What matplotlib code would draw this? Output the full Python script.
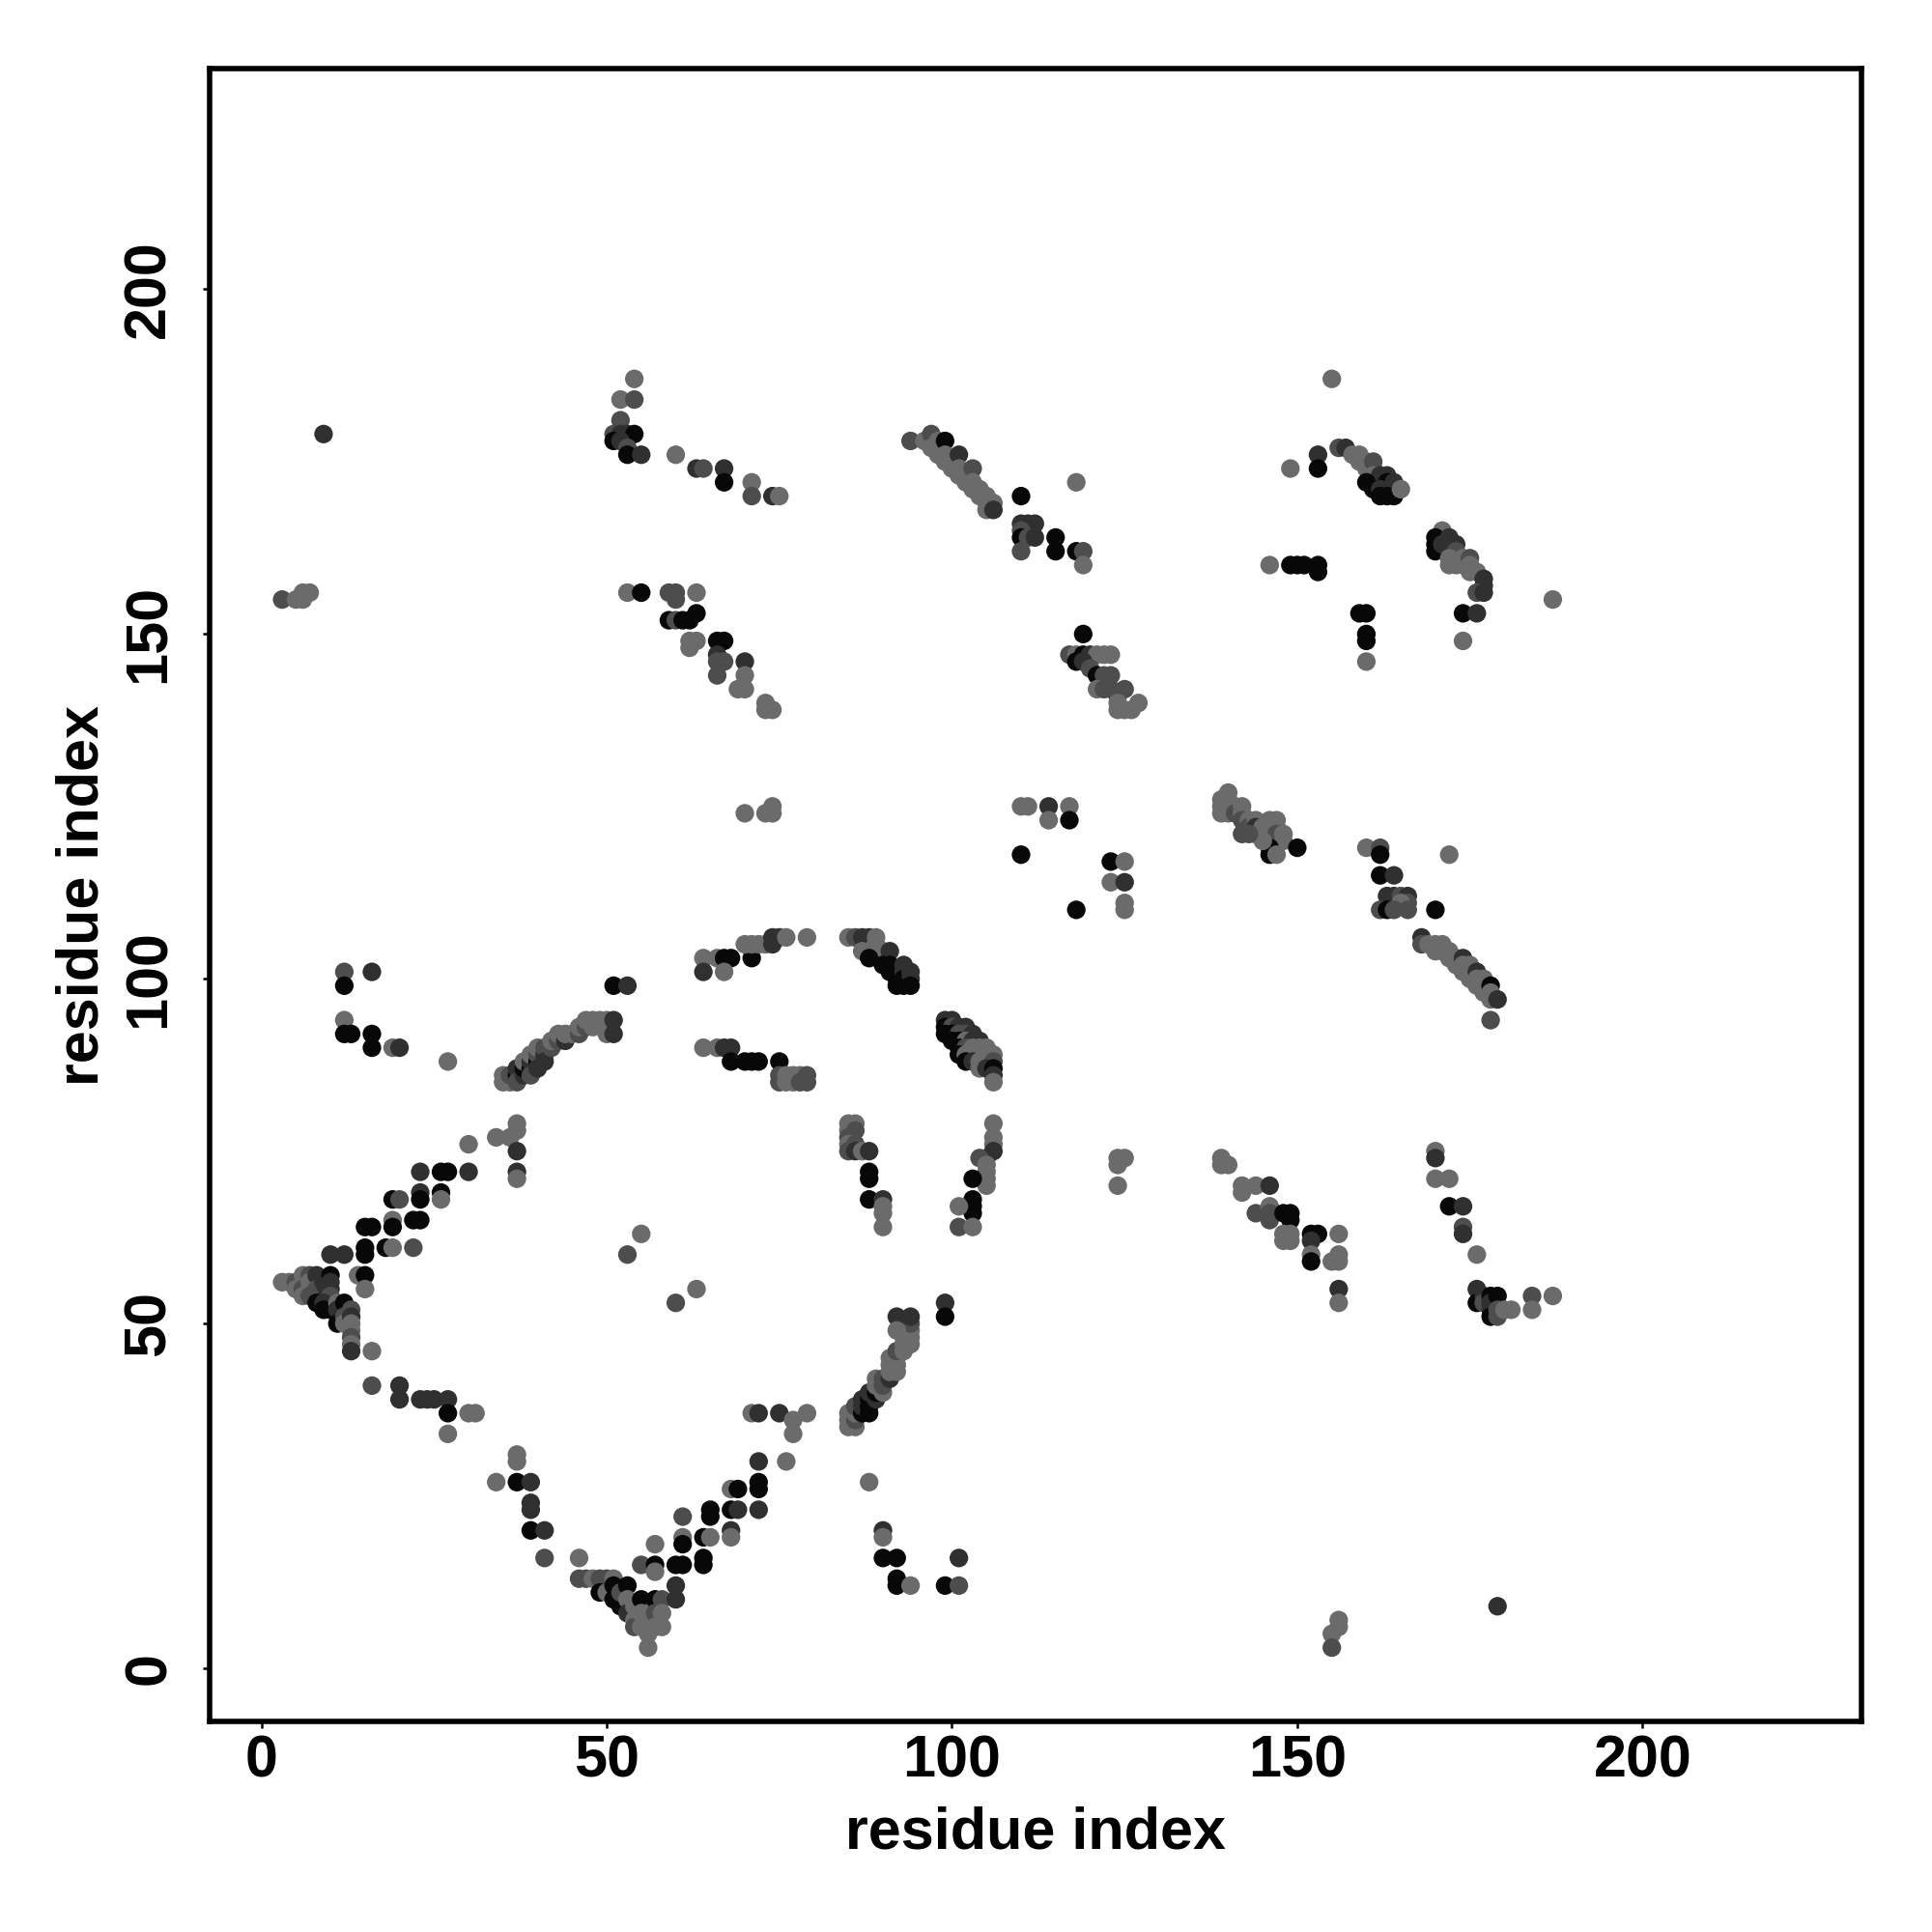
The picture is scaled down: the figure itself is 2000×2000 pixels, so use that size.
import matplotlib
matplotlib.use("Agg")
import matplotlib.pyplot as plt

plt.rcParams['font.family'] = ['Liberation Sans', 'DejaVu Sans']
plt.rcParams['font.weight'] = 'bold'

# contact pairs (residue i, residue j, intensity class)
# intensity class: k = strongest (black) ... g = weakest (grey)
grp_top_left = [(9,179,'d'),(3,155,'m'),(5,155,'g'),(6,155,'g'),(6,156,'g'),(7,156,'g')]
grp_b = [(54,187,'g'),(52,184,'g'),(54,184,'m'),(52,181,'m'),(51,179,'m'),(52,179,'d'),(53,179,'d'),
         (54,179,'k'),(51,178,'k'),(52,178,'d'),(53,177,'m'),(53,176,'k'),(55,176,'d')]
grp_c = [(60,176,'g'),(63,174,'d'),(64,174,'m'),(67,174,'d'),(67,172,'k'),(71,172,'g'),(71,170,'m'),
         (74,170,'d'),(75,170,'g')]
grp_d = [(94,178,'m'),(96,178,'g'),(97,179,'m'),(97,177,'g'),(98,178,'g'),(98,176,'g'),(98,177,'g'),
         (99,178,'k'),(99,176,'g'),(99,175,'g'),(100,175,'g'),(100,174,'g'),(101,176,'d'),(101,174,'g'),
         (101,173,'g'),(102,173,'g'),(102,172,'g'),(103,174,'m'),(103,172,'g'),(103,171,'g'),(104,171,'g'),
         (104,170,'g'),(105,170,'g'),(105,169,'g'),(106,169,'g'),(105,168,'g'),(106,168,'d')]
grp_e = [(118,172,'g'),(110,170,'k'),(110,166,'d'),(111,166,'d'),(112,166,'d'),(110,165,'m'),(110,164,'k'),
         (111,164,'m'),(112,164,'d'),(110,162,'m'),(115,164,'k'),(115,162,'k'),(118,162,'k'),(119,162,'m'),
         (119,160,'g')]
grp_f = [(53,156,'g'),(55,156,'k'),(59,156,'m'),(60,156,'m'),(63,156,'g'),(60,155,'m'),(59,152,'k'),
         (60,152,'m'),(61,152,'k'),(62,152,'k'),(63,153,'k'),(62,149,'g'),(63,149,'g'),(62,148,'g'),
         (66,149,'k'),(67,149,'k'),(66,147,'d'),(66,146,'m'),(67,146,'m'),(66,144,'m'),(70,146,'d'),
         (70,144,'g'),(69,142,'g'),(70,142,'g'),(73,140,'g'),(74,139,'g'),(73,139,'g')]
grp_g = [(119,150,'k'),(117,147,'m'),(118,147,'g'),(119,147,'k'),(120,147,'d'),(121,147,'g'),(122,147,'g'),
         (123,147,'g'),(118,146,'k'),(119,146,'d'),(120,145,'m'),(121,144,'k'),(122,144,'m'),(123,144,'m'),
         (121,142,'g'),(122,142,'m'),(123,142,'m'),(124,141,'m'),(125,142,'m'),(124,140,'g'),(124,139,'g'),
         (125,139,'g'),(126,139,'g'),(127,140,'g')]
grp_h = [(155,187,'g'),(149,174,'g'),(153,176,'d'),(153,174,'k'),(146,160,'g'),(149,160,'k'),(150,160,'k'),
         (151,160,'k'),(153,160,'k'),(153,159,'k')]
grp_i = [(156,177,'m'),(157,177,'d'),(158,176,'g'),(159,176,'g'),(159,175,'g'),(160,175,'g'),(160,174,'g'),
         (161,174,'g'),(161,175,'m'),(161,173,'g'),(162,173,'d'),(163,173,'d'),(162,172,'d'),(163,172,'k'),
         (164,172,'d'),(160,172,'k'),(161,171,'k'),(162,171,'d'),(162,170,'k'),(163,170,'k'),(164,170,'k'),
         (165,171,'g')]
grp_j = [(171,165,'g'),(170,164,'k'),(170,163,'k'),(170,162,'k'),(171,163,'d'),(172,164,'d'),(173,163,'d'),
         (173,162,'m'),(172,161,'g'),(172,160,'g'),(173,160,'g'),(174,161,'g'),(174,160,'g'),(175,161,'m'),
         (175,160,'g'),(175,159,'g'),(176,159,'g'),(177,158,'d'),(177,157,'d'),(176,156,'m'),(177,156,'d')]
grp_k = [(187,155,'g'),(174,153,'k'),(176,153,'d'),(174,149,'g'),(159,153,'k'),(160,153,'k'),(160,150,'k'),
         (160,149,'k'),(160,146,'g')]
grp_l = [(70,124,'g'),(73,124,'g'),(74,125,'g'),(74,124,'g')]
grp_m = [(110,125,'g'),(111,125,'g'),(114,125,'d'),(114,123,'g'),(117,125,'g'),(117,123,'k'),(110,118,'k'),
         (123,117,'k'),(125,117,'g'),(123,114,'g'),(125,114,'d'),(125,111,'g'),(125,110,'g'),(118,110,'k')]
grp_n = [(140,127,'g'),(139,126,'g'),(140,126,'g'),(139,125,'g'),(140,125,'g'),(141,125,'g'),(139,124,'g'),
         (140,124,'g'),(141,124,'m'),(142,125,'g'),(142,124,'g'),(142,123,'m'),(143,123,'g'),(143,122,'m'),
         (142,121,'m'),(144,123,'g'),(144,122,'d'),(144,121,'d'),(145,122,'g'),(145,121,'g'),(146,123,'g'),
         (146,122,'g'),(146,121,'g'),(147,123,'g'),(147,122,'g'),(147,121,'m'),(148,121,'g'),(148,120,'g'),
         (146,119,'k'),(146,118,'k'),(147,118,'g'),(150,119,'k'),(145,120,'g'),(143,121,'m')]
grp_o = [(160,119,'g'),(162,119,'m'),(162,118,'k'),(162,115,'k'),(164,115,'d'),(163,112,'d'),(164,112,'d'),
         (165,112,'m'),(166,112,'d'),(166,111,'m'),(165,111,'g'),(162,110,'m'),(163,110,'k'),(164,110,'m'),
         (166,110,'m'),(170,110,'k'),(172,118,'g')]
grp_p = [(168,106,'d'),(168,105,'m'),(169,105,'g'),(170,105,'g'),(170,104,'g'),(171,105,'g'),(171,104,'g'),
         (172,104,'g'),(172,103,'g'),(173,103,'g'),(173,102,'g'),(174,103,'d'),(174,102,'g'),(174,101,'g'),
         (175,102,'g'),(175,101,'g'),(175,100,'g'),(176,101,'d'),(176,100,'g'),(176,99,'g'),(177,100,'g'),
         (177,99,'g'),(177,98,'g'),(178,99,'k'),(178,98,'g'),(178,97,'g'),(179,97,'d'),(178,94,'m')]
grp_q = [(12,101,'m'),(16,101,'d'),(12,99,'k'),(12,94,'g'),(12,92,'k'),(13,92,'k'),(16,92,'k'),(16,90,'k'),
         (19,90,'g'),(20,90,'d'),(27,88,'g')]
grp_r = [(35,85,'g'),(35,86,'g'),(36,85,'g'),(36,86,'m'),(37,86,'k'),(37,87,'d'),(37,85,'m'),(38,86,'d'),
         (38,87,'k'),(38,88,'g'),(39,87,'k'),(39,88,'d'),(39,89,'g'),(39,86,'m'),(40,88,'k'),(40,89,'m'),
         (40,90,'g'),(40,87,'d'),(41,89,'d'),(41,90,'m'),(41,88,'d'),(42,90,'m'),(42,91,'g'),(43,91,'m'),
         (43,92,'g'),(44,91,'d'),(44,92,'g'),(45,92,'g'),(46,92,'m'),(46,93,'g'),(47,93,'m'),(47,94,'g'),
         (48,93,'g'),(48,94,'g'),(49,94,'g'),(50,94,'g'),(50,92,'g'),(51,94,'d'),(51,92,'d'),(51,99,'k'),
         (53,99,'d')]
grp_s = [(64,103,'g'),(64,101,'d'),(66,103,'g'),(67,103,'k'),(68,103,'k'),(67,101,'g'),(71,103,'k'),
         (70,105,'g'),(71,105,'g'),(72,105,'g'),(73,105,'g'),(74,105,'d'),(74,106,'d'),(75,106,'d'),
         (76,106,'g'),(79,106,'g')]
grp_t = [(85,106,'g'),(86,106,'m'),(87,106,'d'),(88,106,'d'),(89,106,'g'),(87,104,'g'),(88,104,'g'),
         (89,105,'g'),(89,104,'g'),(90,104,'g'),(90,103,'g'),(91,104,'d'),(88,103,'k'),(90,102,'k'),
         (91,102,'k'),(91,101,'k'),(92,101,'k'),(92,100,'k'),(93,102,'d'),(93,101,'d'),(93,100,'k'),
         (93,99,'k'),(94,101,'d'),(94,100,'d'),(94,99,'k'),(92,99,'k')]
grp_u = [(64,90,'g'),(66,90,'g'),(67,90,'d'),(68,90,'d'),(68,88,'k'),(70,88,'k'),(71,88,'k'),(72,88,'k'),
         (75,88,'k'),(75,86,'m'),(75,85,'m'),(76,86,'g'),(76,85,'g'),(77,86,'g'),(77,85,'g'),(78,86,'g'),
         (78,85,'m'),(79,86,'m'),(79,85,'m')]
grp_v = [(99,94,'d'),(100,94,'d'),(99,93,'k'),(100,93,'m'),(101,93,'d'),(102,93,'d'),(99,92,'k'),
         (100,92,'k'),(101,92,'m'),(102,92,'m'),(103,92,'d'),(100,91,'k'),(101,91,'k'),(102,91,'g'),
         (103,91,'d'),(104,91,'d'),(101,90,'k'),(102,90,'m'),(103,90,'g'),(104,90,'g'),(105,90,'g'),
         (101,89,'k'),(102,89,'g'),(103,89,'g'),(104,89,'g'),(106,89,'g'),(102,88,'k'),(103,88,'d'),
         (104,88,'g'),(105,88,'g'),(106,88,'m'),(104,87,'g'),(105,87,'d'),(106,87,'k'),(106,86,'d'),
         (106,85,'g')]
grp_w = [(85,79,'g'),(86,79,'g'),(85,78,'g'),(86,78,'m'),(85,77,'m'),(85,76,'g'),(86,76,'m'),(85,75,'m'),
         (86,75,'d'),(87,75,'g'),(88,75,'d'),(88,72,'k'),(88,71,'k'),(88,68,'k'),(90,68,'d'),(90,67,'g'),
         (90,66,'g'),(90,64,'g')]
grp_x = [(106,79,'g'),(106,77,'g'),(106,76,'g'),(106,75,'d'),(105,74,'d'),(104,74,'m'),(105,73,'g'),
         (105,72,'g'),(105,71,'g'),(105,70,'g'),(103,71,'k'),(103,68,'k'),(103,67,'k'),(103,66,'k'),
         (101,67,'g'),(101,64,'m'),(103,64,'g')]
grp_y = [(30,76,'g'),(34,77,'g'),(36,77,'g'),(37,79,'g'),(37,78,'g'),(37,75,'d'),(37,72,'d'),(37,71,'g'),
         (23,72,'d'),(26,72,'k'),(27,72,'k'),(30,72,'d'),(23,69,'d'),(26,69,'k'),(26,68,'g'),(23,68,'k'),
         (19,68,'k'),(20,68,'m'),(15,64,'k'),(16,64,'k'),(19,65,'g'),(19,64,'k'),(22,65,'k'),(23,65,'k'),
         (10,60,'d'),(12,60,'d'),(15,61,'k'),(15,60,'k'),(18,61,'k'),(19,61,'g'),(22,61,'m')]
grp_z = [(3,56,'g'),(4,56,'g'),(5,56,'m'),(5,55,'g'),(6,57,'g'),(6,55,'m'),(7,57,'m'),(7,56,'g'),(8,57,'d'),
         (8,55,'m'),(9,56,'d'),(9,54,'d'),(10,57,'k'),(10,56,'d'),(10,55,'d'),(10,54,'m'),(6,54,'g'),(7,54,'m'),
         (8,53,'k'),(9,53,'d'),(9,52,'k'),(10,52,'k'),(11,53,'g'),(11,52,'d'),(12,53,'k'),(11,50,'k'),
         (12,51,'m'),(12,50,'g'),(13,52,'m'),(13,51,'d'),(13,50,'g'),(13,49,'g'),(13,48,'m'),(13,47,'g'),
         (13,46,'d'),(14,57,'g'),(15,57,'k'),(15,55,'g'),(16,46,'g')]
grp_aa = [(16,41,'m'),(20,41,'d'),(20,39,'d'),(23,39,'d'),(24,39,'d'),(25,39,'d'),(27,39,'d'),(27,37,'k'),
          (30,37,'g'),(31,37,'g'),(27,34,'g')]
grp_ab = [(37,31,'g'),(37,30,'g'),(34,27,'g'),(37,27,'k'),(39,27,'d'),(39,24,'d'),(39,23,'d'),(39,20,'k'),
          (41,20,'d'),(41,16,'m'),(46,16,'g')]
grp_ac = [(46,13,'m'),(47,13,'m'),(48,13,'g'),(49,13,'m'),(50,13,'m'),(51,13,'g'),(49,11,'k'),(50,11,'g'),
          (51,12,'k'),(51,10,'k'),(52,9,'k'),(52,11,'m'),(53,12,'k'),(53,10,'g'),(53,8,'d'),(54,9,'g'),
          (54,7,'g'),(54,6,'m'),(55,10,'k'),(55,8,'g'),(55,6,'g'),(56,8,'g'),(56,5,'g'),(56,3,'g'),
          (57,10,'k'),(57,8,'m'),(57,6,'g'),(58,10,'m'),(58,8,'g'),(58,6,'g')]
grp_ad = [(55,15,'m'),(57,18,'g'),(57,15,'k'),(57,14,'g'),(60,15,'k'),(61,15,'k'),(60,12,'d'),(60,10,'d'),
          (61,22,'m'),(61,19,'g'),(61,18,'k'),(64,19,'k'),(65,19,'g'),(64,16,'k'),(64,15,'k'),(65,23,'k'),
          (65,22,'k'),(68,26,'g'),(69,26,'k'),(68,23,'k'),(69,23,'d'),(68,20,'d'),(68,19,'g'),(72,30,'d'),
          (76,30,'g'),(72,27,'k'),(72,26,'k'),(72,23,'d'),(71,37,'g'),(72,37,'d'),(75,37,'d'),(77,36,'g'),
          (79,37,'g'),(77,34,'g')]
grp_ae = [(55,63,'g'),(53,60,'m'),(60,53,'m'),(63,55,'g')]
grp_af = [(85,35,'g'),(85,36,'g'),(85,37,'g'),(86,35,'g'),(86,36,'m'),(86,37,'g'),(86,38,'m'),(87,37,'k'),
          (87,38,'d'),(87,39,'d'),(88,37,'k'),(88,38,'k'),(88,39,'k'),(88,40,'d'),(89,39,'d'),(89,40,'k'),
          (89,41,'g'),(89,42,'g'),(90,40,'g'),(90,41,'m'),(90,42,'m'),(91,42,'d'),(91,43,'g'),(91,44,'g'),
          (91,45,'g'),(92,43,'g'),(92,44,'g'),(92,45,'g'),(92,46,'m'),(93,46,'g'),(93,47,'g'),(93,48,'g'),
          (94,47,'g'),(94,48,'g'),(94,49,'g'),(94,50,'m'),(92,51,'d'),(94,51,'d'),(92,49,'g'),(99,53,'d'),
          (99,51,'k'),(88,27,'g')]
grp_ag = [(90,20,'d'),(90,19,'g'),(90,16,'k'),(92,16,'k'),(92,13,'k'),(92,12,'k'),(94,12,'g'),(99,12,'k'),
          (101,12,'m'),(101,16,'d')]
grp_ai = [(124,74,'g'),(125,74,'g'),(124,73,'g'),(124,70,'g')]
grp_aj = [(139,74,'g'),(140,73,'g'),(139,73,'g'),(142,70,'g'),(142,69,'g'),(144,70,'g'),(146,70,'d'),
          (144,66,'m'),(146,67,'g'),(146,66,'m'),(146,65,'m'),(148,66,'k'),(149,66,'k'),(149,65,'k'),
          (148,63,'g'),(149,63,'g'),(148,62,'g'),(149,62,'g'),(152,63,'k'),(153,63,'k'),(152,62,'d'),
          (152,60,'g'),(152,59,'k'),(156,63,'g'),(156,60,'g'),(155,59,'g'),(156,59,'g'),(156,55,'d'),
          (156,53,'g')]
grp_ak = [(170,75,'g'),(170,74,'d'),(170,71,'g'),(172,71,'g'),(172,67,'k'),(174,67,'d'),(174,64,'m'),
          (174,63,'d'),(176,60,'g'),(176,55,'d'),(176,53,'k'),(177,54,'d'),(177,53,'m'),(178,54,'k'),
          (178,53,'d'),(178,52,'d'),(178,51,'k'),(179,54,'k'),(179,52,'m'),(179,51,'m'),(180,52,'g'),
          (181,52,'g'),(184,54,'m'),(184,52,'g'),(187,54,'g')]
grp_al = [(179,9,'d'),(156,7,'g'),(156,6,'g'),(155,5,'g'),(155,3,'m')]

groups = [grp_top_left, grp_b, grp_c, grp_d, grp_e, grp_f, grp_g, grp_h, grp_i, grp_j, grp_k, grp_l,
          grp_m, grp_n, grp_o, grp_p, grp_q, grp_r, grp_s, grp_t, grp_u, grp_v, grp_w, grp_x, grp_y,
          grp_z, grp_aa, grp_ab, grp_ac, grp_ad, grp_ae, grp_af, grp_ag, grp_ai, grp_aj, grp_ak, grp_al]

tick_values = [0, 50, 100, 150, 200]
axis_label = "residue index"

grey_of = {'k': 0.03, 'd': 0.19, 'm': 0.30, 'g': 0.42}

xs, ys, cols = [], [], []
for g in groups:
    for (i, j, c) in g:
        xs.append(i)
        ys.append(j)
        v = grey_of[c]
        cols.append((v, v, v))

fig = plt.figure(figsize=(10, 10), dpi=200)
ax = fig.add_axes([217/2000, 1-1782/2000, (1927-217)/2000, (1782-71)/2000])
ax.scatter(xs, ys, s=48, c=cols, linewidths=0, marker='o', zorder=2)
ax.set_xlim(-7.5, 231.7)
ax.set_ylim(-7.7, 232.0)
ax.set_xticks(tick_values)
ax.set_yticks(tick_values)
ax.set_xticklabels([str(t) for t in tick_values])
ax.set_yticklabels([str(t) for t in tick_values], rotation=90, va='center')
for sp in ax.spines.values():
    sp.set_linewidth(2.0)
ax.tick_params(axis='both', direction='out', length=2.5, width=0.9, labelsize=22)
ax.tick_params(axis='x', pad=2.5)
ax.tick_params(axis='y', pad=9.5)
for lab in ax.get_xticklabels() + ax.get_yticklabels():
    lab.set_fontweight('bold')

fig.text(1072/2000, 1-1913/2000, axis_label, ha='center', va='baseline', fontsize=22, fontweight='bold')
fig.text(102/2000, 1-927/2000, axis_label, ha='center', va='baseline', rotation=90,
         rotation_mode='anchor', fontsize=22, fontweight='bold')

fig.savefig("out.png", dpi=200, facecolor='white')
